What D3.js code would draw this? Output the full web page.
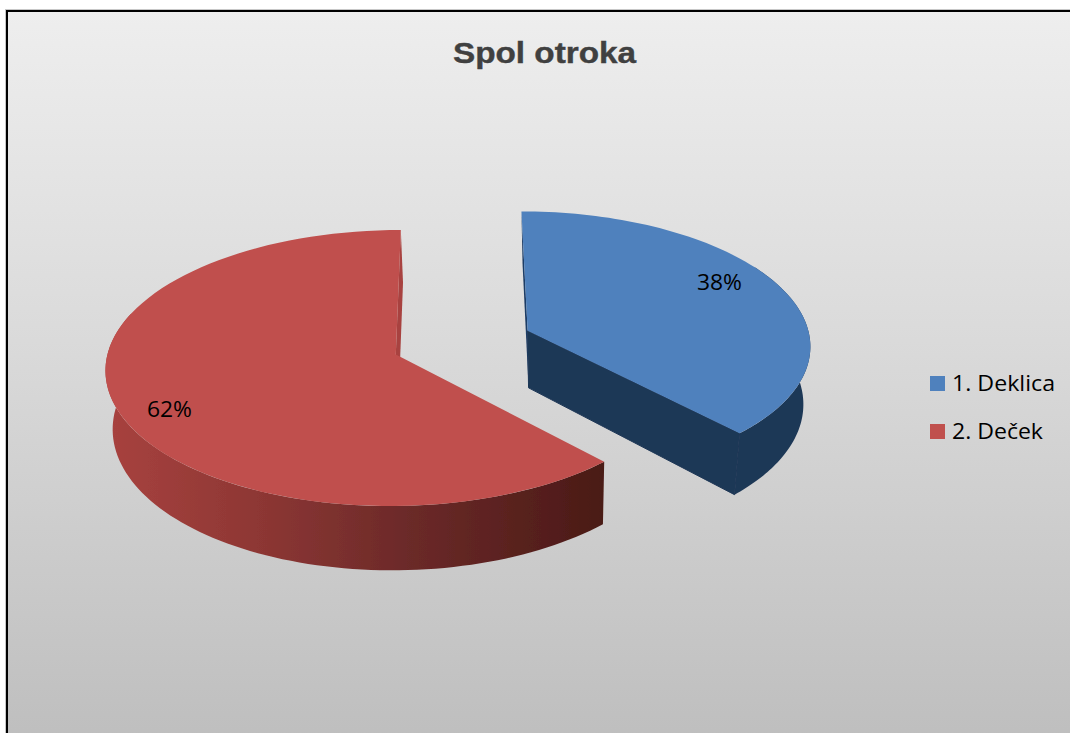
<!DOCTYPE html>
<html><head><meta charset="utf-8">
<script src="https://cdn.jsdelivr.net/npm/d3@7"></script>
<style>html,body{margin:0;padding:0;background:#fff}svg{display:block}</style>
</head><body><svg id="c" width="1070" height="733"></svg>
<script>
const title = "Spol otroka";
const categories = ["1. Deklica", "2. Deček"];
const shares = [38, 62];
const labels = ["38%", "62%"];
const topColors = ["#4f81bd", "#c0504d"];

const W = 1070, H = 733;
const svg = d3.select("#c");
const defs = svg.append("defs");

const bg = defs.append("linearGradient").attr("id","bg").attr("x1",0).attr("y1",0).attr("x2",0).attr("y2",1);
bg.append("stop").attr("offset",0).attr("stop-color","#eeeeee");
bg.append("stop").attr("offset",0.45).attr("stop-color","#dadada");
bg.append("stop").attr("offset",1).attr("stop-color","#bebebe");

const wall = defs.append("linearGradient").attr("id","redWall").attr("gradientUnits","userSpaceOnUse")
  .attr("x1",106).attr("y1",0).attr("x2",604).attr("y2",0);
[[0,"#a8423f"],[0.3,"#8e3734"],[0.6,"#6c2a29"],[1,"#4a1a16"]].forEach(s=>wall.append("stop").attr("offset",s[0]).attr("stop-color",s[1]));

defs.append("filter").attr("id","soft").attr("x","-5%").attr("y","-5%").attr("width","110%").attr("height","110%")
  .append("feGaussianBlur").attr("stdDeviation",0.5);

svg.append("rect").attr("x",7).attr("y",11).attr("width",W).attr("height",H).attr("fill","none")
  .attr("stroke","#999").attr("stroke-width",4).attr("stroke-opacity",0.55);
svg.append("rect").attr("x",7).attr("y",11).attr("width",W).attr("height",H).attr("fill","url(#bg)")
  .attr("stroke","#000").attr("stroke-width",2);

svg.append("text").attr("x",544.5).attr("y",63).attr("text-anchor","middle")
  .attr("font-family","Liberation Sans").attr("font-weight","bold").attr("font-size",29)
  .attr("fill","#404040").attr("stroke","#404040").attr("stroke-width",0.4)
  .attr("textLength",183).attr("lengthAdjust","spacingAndGlyphs").text(title);

// Projection of the tilted disc
const vx = 455, vy = 342, T = 0.47, k = 0.0975, R = 285, explode = 68, center = [8, 0];
const depth = 57.5;
const radii = [283, 286];
const sliceDx = [2, -3.5], sliceDy = [0, 1];
const baseVx = [560, 530], baseShrink = [0.972, 0.983];
const wallSpan = [[Math.PI*0.33, null], [null, Math.PI*1.6]];
const pie = d3.pie().sort(null).value(d=>d)(shares);

function persp(a, b){ const p = 1/(1-k*b/R); return {x: vx + a*p, y: vy + T*b*p, p}; }
function base(pt, i){ return {x: baseVx[i] + (pt.x-baseVx[i])*baseShrink[i], y: pt.y + depth*pt.p}; }
function disc(slice, i, r, th){
  const mid = (slice.startAngle+slice.endAngle)/2;
  const a = center[0] + explode*Math.sin(mid) + r*Math.sin(th);
  const b = center[1] - explode*Math.cos(mid)*0.96 - r*Math.cos(th);
  const pt = persp(a,b);
  return {x: pt.x+sliceDx[i], y: pt.y+sliceDy[i], p: pt.p};
}
const line = d3.line().x(d=>d.x).y(d=>d.y);
const samples = (a,b)=>d3.range(0,91).map(i=>a+(b-a)*i/90);

const wallFill = ["#1e3756","url(#redWall)"];
const g = svg.append("g").attr("filter","url(#soft)");

pie.forEach((s,i)=>{
  const r = radii[i];
  const apex = disc(s,i,0,0);
  const st = disc(s,i,r,s.startAngle), en = disc(s,i,r,s.endAngle);
  const arcPts = samples(s.startAngle,s.endAngle).map(t=>disc(s,i,r,t));
  const from = wallSpan[i][0] ?? s.startAngle, to = wallSpan[i][1] ?? s.endAngle;
  const wallPts = samples(from,to).map(t=>disc(s,i,r,t));
  const b = p=>base(p,i);
  if(i===0){
    g.append("path").attr("d",line([st,apex,b(apex),b(st)])+"Z").attr("fill","#1e3d66");
    g.append("path").attr("d",line([en,apex,b(apex),b(en)])+"Z").attr("fill","#1e3756").attr("stroke","#1e3756").attr("stroke-width",1);
  } else {
    g.append("path").attr("d",line([en,apex,b(apex),b(en)])+"Z").attr("fill","#a8423f");
  }
  g.append("path").attr("d",line(wallPts.concat(wallPts.map(b).reverse()))+"Z").attr("fill",wallFill[i]);
  g.append("path").attr("d",line([apex].concat(arcPts))+"Z").attr("fill",topColors[i]);
});

const labelPos = [[719.5,282],[169.5,409]];
labels.forEach((t,i)=>svg.append("text").attr("x",labelPos[i][0]).attr("y",labelPos[i][1]+7.5)
  .attr("text-anchor","middle").attr("font-family","Open Sans").attr("font-size",21).attr("fill","#000")
  .attr("textLength",45).attr("lengthAdjust","spacingAndGlyphs").text(t));

const legY = d3.scalePoint().domain(categories).range([383.5,431.5]);
const legW = [103, 91];
categories.forEach((c,i)=>{
  svg.append("rect").attr("x",930).attr("y",legY(c)-7.5).attr("width",15).attr("height",15).attr("fill",topColors[i]);
  svg.append("text").attr("x",952).attr("y",legY(c)+7.5).attr("font-family","Open Sans").attr("font-size",21).attr("fill","#000")
    .attr("textLength",legW[i]).attr("lengthAdjust","spacingAndGlyphs").text(c);
});
</script></body></html>
